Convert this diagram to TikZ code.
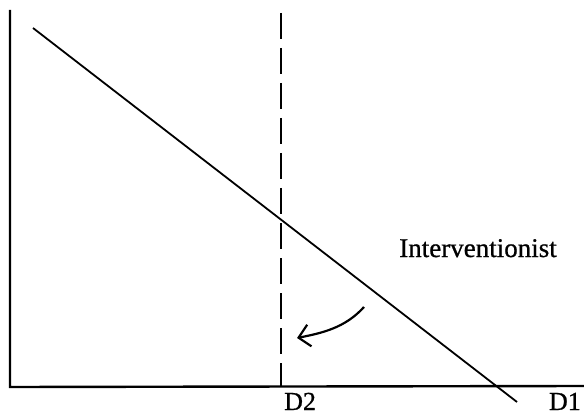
\documentclass[tikz,border=0pt]{standalone}
\usepackage{fontspec}
\setmainfont{Liberation Serif}[FakeBold=0.8]
\usetikzlibrary{arrows.meta}
\tikzset{
  axisline/.style={line width=2.4pt, line cap=butt},
  demandline/.style={line width=1.8pt},
  dashline/.style={line width=2.2pt, dash pattern=on 26pt off 9pt},
  lbl/.style={font=\fontsize{27}{31}\selectfont, inner sep=0pt, text depth=0pt},
  axlbl/.style={font=\fontsize{26}{30}\selectfont, inner sep=0pt, text depth=0pt},
  curvearrow/.style={line width=2.2pt, -{Straight Barb[length=11pt,width=22pt,line width=2.2pt]}}
}
\begin{document}
\begin{tikzpicture}[x=1pt,y=-1pt]
\useasboundingbox (0,0) rectangle (584,417);
\coordinate (ytop) at (10,10);
\coordinate (origin) at (10,387);
\coordinate (xend) at (584,386);
\coordinate (dtop) at (33,28);
\coordinate (dend) at (517,402);
\coordinate (vtop) at (281,13);
\coordinate (vbot) at (281,386);
\coordinate (astart) at (364,307);
\coordinate (aend) at (297,338);
\draw[axisline] (ytop) -- (origin) -- (xend);
\draw[demandline] (dtop) -- (dend);
\draw[dashline] (vtop) -- (vbot);
\draw[curvearrow] (astart) .. controls (345,328) and (322,333) .. (aend);
\node[lbl, anchor=base] (interv) at (478,257) {Interventionist};
\node[axlbl, anchor=base west] (d2) at (284,410) {D2};
\node[axlbl, anchor=base east] (d1) at (581,410) {D1};
\end{tikzpicture}
\end{document}
